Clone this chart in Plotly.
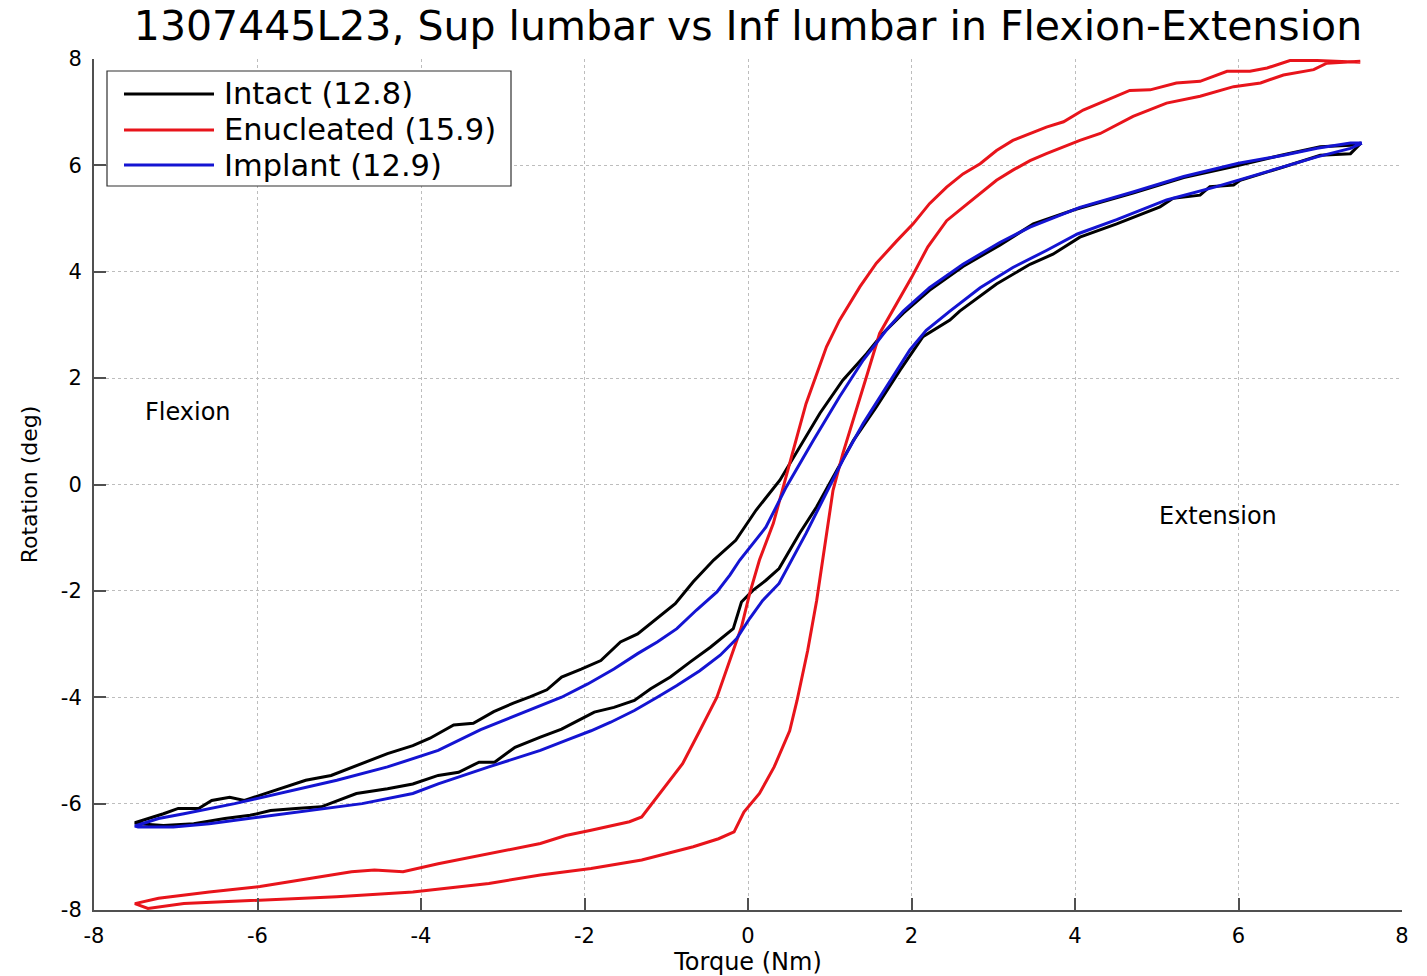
import plotly.graph_objects as go

# ---------------- data ----------------
series_names = ["Intact (12.8)", "Enucleated (15.9)", "Implant (12.9)"]
series_colors = ["#000000", "#e8141b", "#1414d2"]

# Intact: unloading branch (torque decreasing) then loading branch (torque increasing)
intact_up_x = [7.50, 7.37, 7.00, 6.55, 5.94, 5.33, 4.71, 4.00, 3.49, 3.08, 2.63, 2.22, 1.90, 1.65,
               1.45, 1.16, 0.88, 0.63, 0.39, 0.10, -0.15, -0.42, -0.67, -0.89, -1.11, -1.35, -1.56,
               -1.80, -2.04, -2.28, -2.46, -2.66, -2.87, -3.11, -3.36, -3.60, -3.89, -4.10, -4.41,
               -4.79, -5.10, -5.41, -5.72, -6.03, -6.16, -6.34, -6.56, -6.72, -6.97, -7.15, -7.40, -7.50]
intact_up_y = [6.42, 6.38, 6.35, 6.20, 5.98, 5.77, 5.48, 5.17, 4.90, 4.50, 4.10, 3.65, 3.22, 2.84,
               2.46, 1.96, 1.34, 0.71, 0.08, -0.48, -1.05, -1.42, -1.83, -2.24, -2.52, -2.81, -2.96,
               -3.31, -3.47, -3.62, -3.86, -3.99, -4.11, -4.27, -4.49, -4.52, -4.77, -4.91, -5.06,
               -5.28, -5.47, -5.56, -5.72, -5.88, -5.94, -5.88, -5.94, -6.09, -6.09, -6.19, -6.31, -6.36]
intact_lo_x = [-7.46, -7.15, -6.78, -6.40, -6.09, -5.84, -5.53, -5.22, -4.79, -4.41, -4.10, -3.79,
               -3.54, -3.29, -3.10, -2.85, -2.54, -2.28, -2.08, -1.88, -1.64, -1.39, -1.19, -0.95,
               -0.71, -0.46, -0.18, -0.14, -0.08, 0.06, 0.22, 0.38, 0.63, 0.84, 1.04, 1.29, 1.57,
               1.86, 2.14, 2.47, 2.59, 3.04, 3.45, 3.73, 4.06, 4.51, 5.04, 5.20, 5.53, 5.65, 5.94,
               6.02, 6.55, 7.00, 7.37, 7.50]
intact_lo_y = [-6.38, -6.41, -6.38, -6.28, -6.22, -6.13, -6.09, -6.06, -5.81, -5.72, -5.63, -5.47,
               -5.41, -5.22, -5.22, -4.94, -4.75, -4.60, -4.44, -4.28, -4.19, -4.06, -3.84, -3.62,
               -3.34, -3.06, -2.71, -2.49, -2.21, -1.99, -1.80, -1.58, -0.92, -0.42, 0.14, 0.83, 1.46,
               2.15, 2.78, 3.09, 3.26, 3.77, 4.14, 4.33, 4.65, 4.90, 5.22, 5.38, 5.44, 5.60, 5.63,
               5.72, 5.97, 6.19, 6.22, 6.42]

# Enucleated
enuc_up_x = [7.49, 7.16, 6.96, 6.63, 6.35, 6.14, 5.86, 5.53, 5.24, 4.92, 4.67, 4.10, 3.86, 3.65,
             3.45, 3.24, 3.04, 2.84, 2.63, 2.43, 2.22, 2.02, 1.82, 1.57, 1.37, 1.12, 0.96, 0.84,
             0.71, 0.61, 0.51, 0.41, 0.31, 0.14, 0.02, -0.08, -0.22, -0.38, -0.59, -0.80, -1.30,
             -1.45, -1.92, -2.23, -2.54, -3.17, -3.79, -4.22, -4.57, -4.85, -5.35, -5.97, -6.59,
             -7.21, -7.50]
enuc_up_y = [7.94, 7.96, 7.97, 7.97, 7.83, 7.77, 7.77, 7.58, 7.55, 7.42, 7.41, 7.04, 6.82, 6.72,
             6.60, 6.47, 6.28, 6.03, 5.84, 5.59, 5.28, 4.90, 4.58, 4.16, 3.72, 3.09, 2.59, 2.09,
             1.52, 0.96, 0.39, -0.17, -0.73, -1.42, -2.05, -2.68, -3.31, -4.00, -4.63, -5.25, -6.25,
             -6.34, -6.50, -6.60, -6.75, -6.94, -7.13, -7.28, -7.25, -7.28, -7.41, -7.56, -7.66,
             -7.78, -7.88]
enuc_lo_x = [-7.34, -6.90, -5.97, -5.03, -4.10, -3.17, -2.54, -1.92, -1.30, -0.67, -0.36, -0.17,
             -0.05, 0.14, 0.32, 0.51, 0.60, 0.73, 0.84, 0.96, 1.04, 1.16, 1.29, 1.45, 1.61, 1.80,
             2.00, 2.20, 2.43, 2.63, 2.84, 3.04, 3.24, 3.45, 3.65, 3.86, 4.06, 4.31, 4.71, 5.12,
             5.53, 5.94, 6.27, 6.55, 6.92, 7.08, 7.49]
enuc_lo_y = [-7.97, -7.88, -7.81, -7.75, -7.66, -7.50, -7.34, -7.22, -7.06, -6.81, -6.66, -6.53,
             -6.16, -5.81, -5.31, -4.63, -4.06, -3.12, -2.18, -0.92, -0.11, 0.58, 1.21, 2.03, 2.84,
             3.35, 3.89, 4.47, 4.96, 5.21, 5.47, 5.72, 5.91, 6.09, 6.22, 6.35, 6.47, 6.60, 6.92,
             7.17, 7.30, 7.48, 7.55, 7.70, 7.80, 7.92, 7.96]

# Implant
impl_up_x = [7.51, 7.37, 6.96, 6.55, 6.00, 5.33, 4.71, 4.06, 3.45, 3.08, 2.63, 2.22, 1.90, 1.69,
             1.41, 1.12, 0.80, 0.47, 0.22, -0.10, -0.22, -0.38, -0.63, -0.87, -1.11, -1.35, -1.64,
             -1.96, -2.28, -2.87, -3.27, -3.79, -4.41, -5.03, -5.66, -6.28, -6.90, -7.21, -7.50]
impl_up_y = [6.42, 6.42, 6.32, 6.19, 6.04, 5.79, 5.50, 5.21, 4.84, 4.55, 4.14, 3.70, 3.26, 2.90,
             2.34, 1.65, 0.83, -0.04, -0.80, -1.42, -1.70, -2.02, -2.36, -2.71, -2.96, -3.18, -3.47,
             -3.75, -4.00, -4.36, -4.61, -5.00, -5.31, -5.56, -5.78, -6.00, -6.19, -6.28, -6.42]
impl_lo_x = [-7.46, -7.03, -6.59, -5.97, -5.35, -4.72, -4.10, -3.79, -3.17, -2.54, -2.21, -1.92,
             -1.68, -1.39, -1.11, -0.87, -0.59, -0.34, -0.14, 0.02, 0.18, 0.38, 0.71, 0.96, 1.16,
             1.41, 1.69, 1.98, 2.18, 2.47, 2.84, 3.24, 3.65, 4.03, 4.51, 5.12, 5.73, 6.00, 6.55,
             6.96, 7.37, 7.51]
impl_lo_y = [-6.44, -6.44, -6.38, -6.25, -6.13, -6.00, -5.81, -5.63, -5.31, -5.00, -4.80, -4.63,
             -4.47, -4.25, -4.00, -3.78, -3.50, -3.21, -2.90, -2.52, -2.18, -1.86, -0.92, -0.17, 0.46,
             1.15, 1.84, 2.53, 2.90, 3.26, 3.70, 4.08, 4.40, 4.71, 4.98, 5.35, 5.60, 5.72, 5.97,
             6.16, 6.32, 6.42]

tick_vals = [-8, -6, -4, -2, 0, 2, 4, 6, 8]
tick_text = ["-8", "-6", "-4", "-2", "0", "2", "4", "6", "8"]

title_text = "1307445L23, Sup lumbar vs Inf lumbar in Flexion-Extension"
x_title = "Torque (Nm)"
y_title = "Rotation (deg)"
region_labels = ["Flexion", "Extension"]
region_x = [-6.85, 5.75]
region_y = [1.36, -0.60]

# ---------------- figure ----------------
FONT = "DejaVu Sans"
W, H = 1427, 976
ML, MR, MT, MB = 94, 25, 59, 66
AXC = "#505050"

loops = [
    (intact_up_x + intact_lo_x, intact_up_y + intact_lo_y),
    (enuc_up_x + enuc_lo_x, enuc_up_y + enuc_lo_y),
    (impl_up_x + impl_lo_x, impl_up_y + impl_lo_y),
]

fig = go.Figure()
for (lx, ly), name, col in zip(loops, series_names, series_colors):
    fig.add_trace(go.Scatter(x=lx, y=ly, mode="lines", name=name,
                             line=dict(color=col, width=3), showlegend=False))

axis_common = dict(
    range=[-8, 8], tickmode="array", tickvals=tick_vals, ticktext=tick_text,
    ticks="inside", ticklen=12, tickwidth=1.5, tickcolor=AXC,
    showline=True, linecolor=AXC, linewidth=2, mirror=False,
    showgrid=True, gridcolor="#bdbdbd", gridwidth=1, griddash="dot",
    zeroline=False, tickfont=dict(family=FONT, size=21, color="black"),
    automargin=False,
)
fig.update_xaxes(**axis_common, ticklabelstandoff=6,
                 title=dict(text=x_title, font=dict(family=FONT, size=24, color="black"), standoff=6))
fig.update_yaxes(**axis_common, ticklabelstandoff=6,
                 title=dict(text=y_title, font=dict(family=FONT, size=22, color="black"), standoff=17))

# region labels
for t, x, y in zip(region_labels, region_x, region_y):
    fig.add_annotation(x=x, y=y, xref="x", yref="y", text=t, showarrow=False,
                       font=dict(family=FONT, size=24, color="black"),
                       xanchor="center", yanchor="middle")

# legend box (MATLAB style, long line samples)
pw, ph = W - ML - MR, H - MT - MB
def px2x(p): return (p - ML) / pw
def py2y(p): return (H - MB - p) / ph

fig.add_shape(type="rect", xref="paper", yref="paper",
              x0=px2x(107), x1=px2x(511), y0=py2y(186), y1=py2y(71),
              line=dict(color="#303030", width=1.2), fillcolor="white", layer="above")
row_py = [94, 130, 165]
for name, col, rp in zip(series_names, series_colors, row_py):
    fig.add_shape(type="line", xref="paper", yref="paper",
                  x0=px2x(124), x1=px2x(214), y0=py2y(rp), y1=py2y(rp),
                  line=dict(color=col, width=3), layer="above")
    fig.add_annotation(x=px2x(222), y=py2y(rp), xref="paper", yref="paper", text=name,
                       showarrow=False, xanchor="left", yanchor="middle",
                       font=dict(family=FONT, size=30.5, color="black"))

fig.update_layout(
    width=W, height=H,
    margin=dict(l=ML, r=MR, t=MT, b=MB, pad=0),
    paper_bgcolor="white", plot_bgcolor="white",
    title=dict(text=title_text, x=0.5, xanchor="center", xref="paper",
               y=1 - 26 / H, yref="container", yanchor="middle",
               font=dict(family=FONT, size=41, color="black")),
    showlegend=False,
)

fig.write_html("out.html", config={"displayModeBar": False},
               post_script="document.body.style.margin='0';document.body.style.overflow='hidden';")
